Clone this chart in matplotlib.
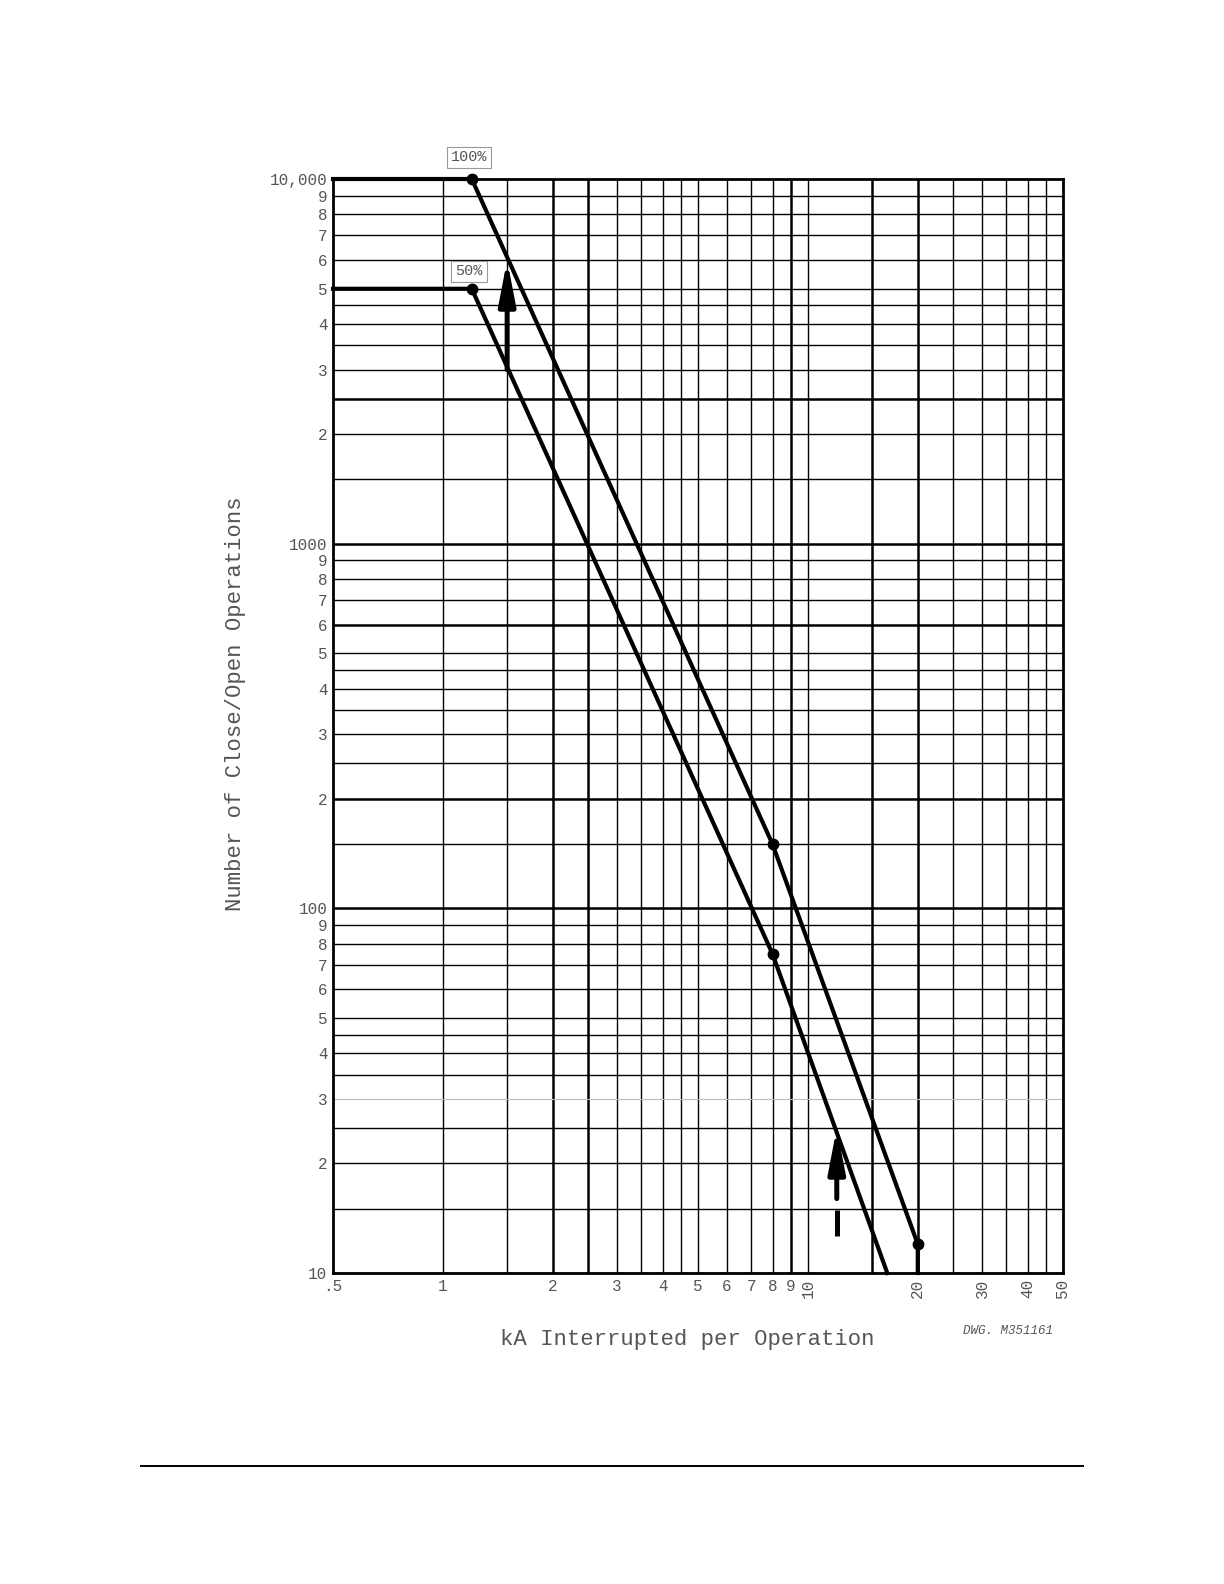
import matplotlib.pyplot as plt
from matplotlib.ticker import NullLocator

# --------------------------------------------------
# Close/Open operations vs. interrupted current
# --------------------------------------------------

# 100% curve break points (kA, operations)
x_100 = [0.5, 1.2, 8, 20, 20]
y_100 = [10000, 10000, 150, 12, 10]
dots_100_x = [1.2, 8, 20]
dots_100_y = [10000, 150, 12]

# 50% curve break points
x_50 = [0.5, 1.2, 8, 16.5]
y_50 = [5000, 5000, 75, 10]
dots_50_x = [1.2, 8]
dots_50_y = [5000, 75]

# arrows
solid_arrow_x = 1.5
solid_arrow_y = [3000, 6000]
dash_arrow_x = 12
dash_low = [12.6, 14.9]     # lower dash
dash_high = [16.0, 25]      # upper dash with head

# grid
grid_mult = [1, 1.5, 2, 2.5, 3, 3.5, 4, 4.5, 5, 6, 7, 8, 9]
x_decades = [1, 10]
y_decades = [10, 100, 1000]
x_thick = [2, 2.5, 9, 15, 20]
y_thick = [100, 200, 600, 1000, 2500]
y_faint = [30]

# tick labels
x_ticks = [0.5, 1, 2, 3, 4, 5, 6, 7, 8, 9, 10, 20, 30, 40, 50]
x_labels = ['.5', '1', '2', '3', '4', '5', '6', '7', '8', '9',
            '10', '20', '30', '40', '50']
y_ticks = [10, 20, 30, 40, 50, 60, 70, 80, 90,
           100, 200, 300, 400, 500, 600, 700, 800, 900,
           1000, 2000, 3000, 4000, 5000, 6000, 7000, 8000, 9000, 10000]
y_labels = ['10', '2', '3', '4', '5', '6', '7', '8', '9',
            '100', '2', '3', '4', '5', '6', '7', '8', '9',
            '1000', '2', '3', '4', '5', '6', '7', '8', '9', '10,000']

FONT = 'Liberation Mono'
TXT = '#555555'

fig = plt.figure(figsize=(12.24, 15.84), dpi=100)
ax = fig.add_axes([333 / 1224, 1 - 1273 / 1584, 730 / 1224, 1094 / 1584])
ax.set_xscale('log')
ax.set_yscale('log')
ax.set_xlim(0.5, 50)
ax.set_ylim(10, 10000)

# grid lines
for d in x_decades:
    for m in grid_mult:
        v = m * d
        if v >= 50:
            continue
        ax.axvline(v, color='black', lw=1.8 if v in x_thick else 1.0, zorder=1)
for d in y_decades:
    for m in grid_mult:
        v = m * d
        if v in y_faint:
            ax.axhline(v, color='#bbbbbb', lw=0.8, zorder=1)
        else:
            ax.axhline(v, color='black', lw=1.8 if v in y_thick else 1.0, zorder=1)

# curves
ax.plot(x_100, y_100, color='black', lw=3.0, clip_on=False, zorder=3)
ax.plot(x_50, y_50, color='black', lw=3.0, clip_on=False, zorder=3)
ax.plot(dots_100_x, dots_100_y, 'o', color='black', ms=7.5, clip_on=False, zorder=4)
ax.plot(dots_50_x, dots_50_y, 'o', color='black', ms=7.5, clip_on=False, zorder=4)

# arrows
arrow_props = dict(arrowstyle='-|>,head_length=26,head_width=5', mutation_scale=1,
                   color='black', lw=3.6, shrinkA=0, shrinkB=0)
ax.annotate('', xy=(solid_arrow_x, solid_arrow_y[1]),
            xytext=(solid_arrow_x, solid_arrow_y[0]), arrowprops=arrow_props, zorder=5)
ax.plot([dash_arrow_x, dash_arrow_x], dash_low, color='black', lw=3.6,
        solid_capstyle='butt', zorder=5)
ax.annotate('', xy=(dash_arrow_x, dash_high[1]),
            xytext=(dash_arrow_x, dash_high[0]), arrowprops=arrow_props, zorder=5)

# curve labels
box = dict(boxstyle='square,pad=0.25', fc='white', ec='#999999', lw=0.8)
ax.annotate('100%', xy=(dots_100_x[0], dots_100_y[0]), xytext=(-2, 15.5),
            textcoords='offset points', ha='center', va='center', fontsize=11,
            family=FONT, color=TXT, bbox=box, annotation_clip=False)
ax.annotate('50%', xy=(dots_50_x[0], dots_50_y[0]), xytext=(-2, 12.5),
            textcoords='offset points', ha='center', va='center', fontsize=11,
            family=FONT, color=TXT, bbox=box, annotation_clip=False)

# ticks
ax.xaxis.set_minor_locator(NullLocator())
ax.yaxis.set_minor_locator(NullLocator())
ax.set_xticks(x_ticks)
ax.set_xticklabels(x_labels, family=FONT, fontsize=11.5, color=TXT)
ax.set_yticks(y_ticks)
ax.set_yticklabels(y_labels, family=FONT, fontsize=11.5, color=TXT)
for lbl in ax.get_xticklabels()[10:]:
    lbl.set_rotation(90)
    lbl.set_va('top')
ax.tick_params(length=0, pad=4)

for s in ax.spines.values():
    s.set_linewidth(2.0)
    s.set_zorder(2)

fig.text(236 / 1224, 1 - 704 / 1584, 'Number of Close/Open Operations', rotation=90,
         ha='center', va='center', family=FONT, fontsize=16, color=TXT)
fig.text(687 / 1224, 1 - 1339 / 1584, 'kA Interrupted per Operation',
         ha='center', va='center', family=FONT, fontsize=16, color=TXT)
fig.text(1008 / 1224, 1 - 1331 / 1584, 'DWG. M351161', ha='center', va='center',
         family=FONT, style='italic', fontsize=9, color=TXT)

# page rule
fig.add_artist(plt.Line2D([141 / 1224, 1083 / 1224], [1 - 1466 / 1584, 1 - 1466 / 1584],
                          color='black', lw=1.4, transform=fig.transFigure))

fig.savefig('out.png', dpi=100)
